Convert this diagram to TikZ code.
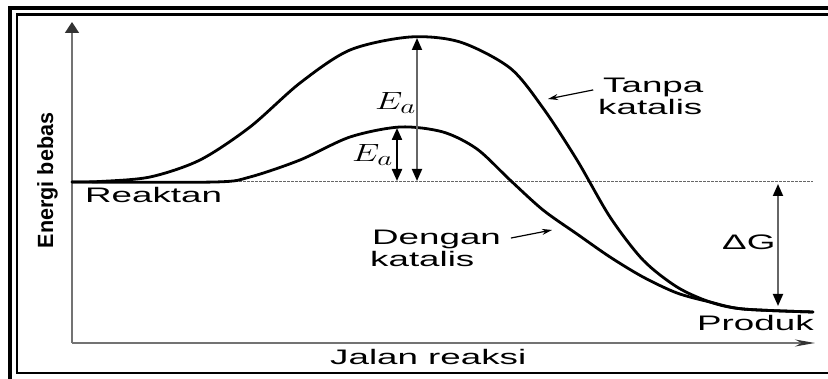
\documentclass[tikz,border=0pt]{standalone}
\usepackage{fontspec}
\setmainfont{Liberation Sans}
\usetikzlibrary{arrows.meta}
\newcommand{\lebar}[1]{\scalebox{1.75}[1]{#1}}

\begin{document}
\begin{tikzpicture}[x=1pt, y=-1pt, >={Triangle[length=12pt,width=10pt,color=black]},
  teks/.style={inner sep=0pt, font=\fontsize{21}{22}\selectfont},
  kurva/.style={line width=2.8pt, line join=round, line cap=round},
  sumbu/.style={line width=1.6pt, black!55},
  ukur/.style={<->, line width=1.8pt, black!60},
  tunjuk/.style={-{Stealth[length=10pt,width=6pt]}, line width=1.2pt, shorten <=10pt}]
  \useasboundingbox (0,0) rectangle (828,379);

  % Bingkai
  \draw[line width=4pt] (10,379) -- (10,8) -- (828,8);
  \draw[line width=2.4pt] (828,14.7) -- (17,14.7) -- (17,373) -- (828,373);

  % Sumbu
  \coordinate (O) at (72,343);
  \coordinate (ujungy) at (72,22);
  \coordinate (ujungx) at (815,343);
  \draw[sumbu, -{Triangle[length=11pt,width=14pt,color=black!80]}] (O) -- (ujungy);
  \draw[sumbu, -{Stealth[length=20pt,width=7pt,color=black!80]}] (O) -- (ujungx);

  % Garis tingkat energi reaktan
  \draw[black!60, line width=1pt, dash pattern=on 2.5pt off 1.5pt] (215,182) -- (813,182);

  % Kurva tanpa katalis
  \draw[kurva] plot[smooth] coordinates {(72,182) (100,181.5) (150,177) (200,160)
    (250,127) (300,83) (350,50) (410,37) (460,42) (510,68) (543,108) (577,160)
    (610,217) (643,260) (677,287) (710,302) (743,309) (813,312)};

  % Kurva dengan katalis
  \draw[kurva] plot[smooth] coordinates {(72,182) (215,182) (250,177) (300,160)
    (350,137) (400,127) (443,132) (477,149) (510,180) (543,210) (577,234)
    (610,257) (643,277) (677,293) (710,302) (743,309) (813,312)};

  % Panah energi aktivasi dan perubahan energi bebas
  \coordinate (puncak1) at (417,38);
  \coordinate (dasar1) at (417,181);
  \coordinate (puncak2) at (397,128);
  \coordinate (dasar2) at (397,181);
  \coordinate (atasG) at (778,184);
  \coordinate (bawahG) at (778,306);
  \draw[ukur] (dasar1) -- (puncak1);
  \draw[ukur, black, line width=2.2pt] (dasar2) -- (puncak2);
  \draw[ukur] (atasG) -- (bawahG);

  % Label
  \node[anchor=base west, inner sep=0pt] (ea1) at (375,110) {\fontsize{24.88}{26}\selectfont\scalebox{1.4}[1]{$E_a$}};
  \node[anchor=base west, inner sep=0pt] (ea2) at (352,162) {\fontsize{24.88}{26}\selectfont\scalebox{1.4}[1]{$E_a$}};
  \node[teks, anchor=base west] (dg) at (722,250) {\lebar{ΔG}};
  \node[teks, anchor=base west] (reaktan) at (85,203) {\lebar{Reaktan}};
  \node[teks, anchor=base west] (produk) at (697,331) {\lebar{Produk}};
  \node[teks, anchor=base west] (jalan) at (330,365) {\lebar{Jalan reaksi}};
  \node[rotate=90, anchor=base, inner sep=0pt] (energi) at (53,180.5)
    {\fontsize{22}{24}\selectfont\bfseries\scalebox{0.98}[1]{Energi bebas}};

  \node[teks, anchor=base west] (tanpa) at (603,93) {\lebar{Tanpa}};
  \node[teks, anchor=base west] (tanpakat) at (598,115) {\lebar{katalis}};
  \node[teks, anchor=base west] (dengan) at (372,245) {\lebar{Dengan}};
  \node[teks, anchor=base west] (dengankat) at (370,267) {\lebar{katalis}};

  \coordinate (kenatanpa) at (548,99);
  \coordinate (kenadengan) at (552,230);
  \draw[tunjuk] (tanpa.west) -- (kenatanpa);
  \draw[tunjuk] (dengan.east) -- (kenadengan);
\end{tikzpicture}
\end{document}
